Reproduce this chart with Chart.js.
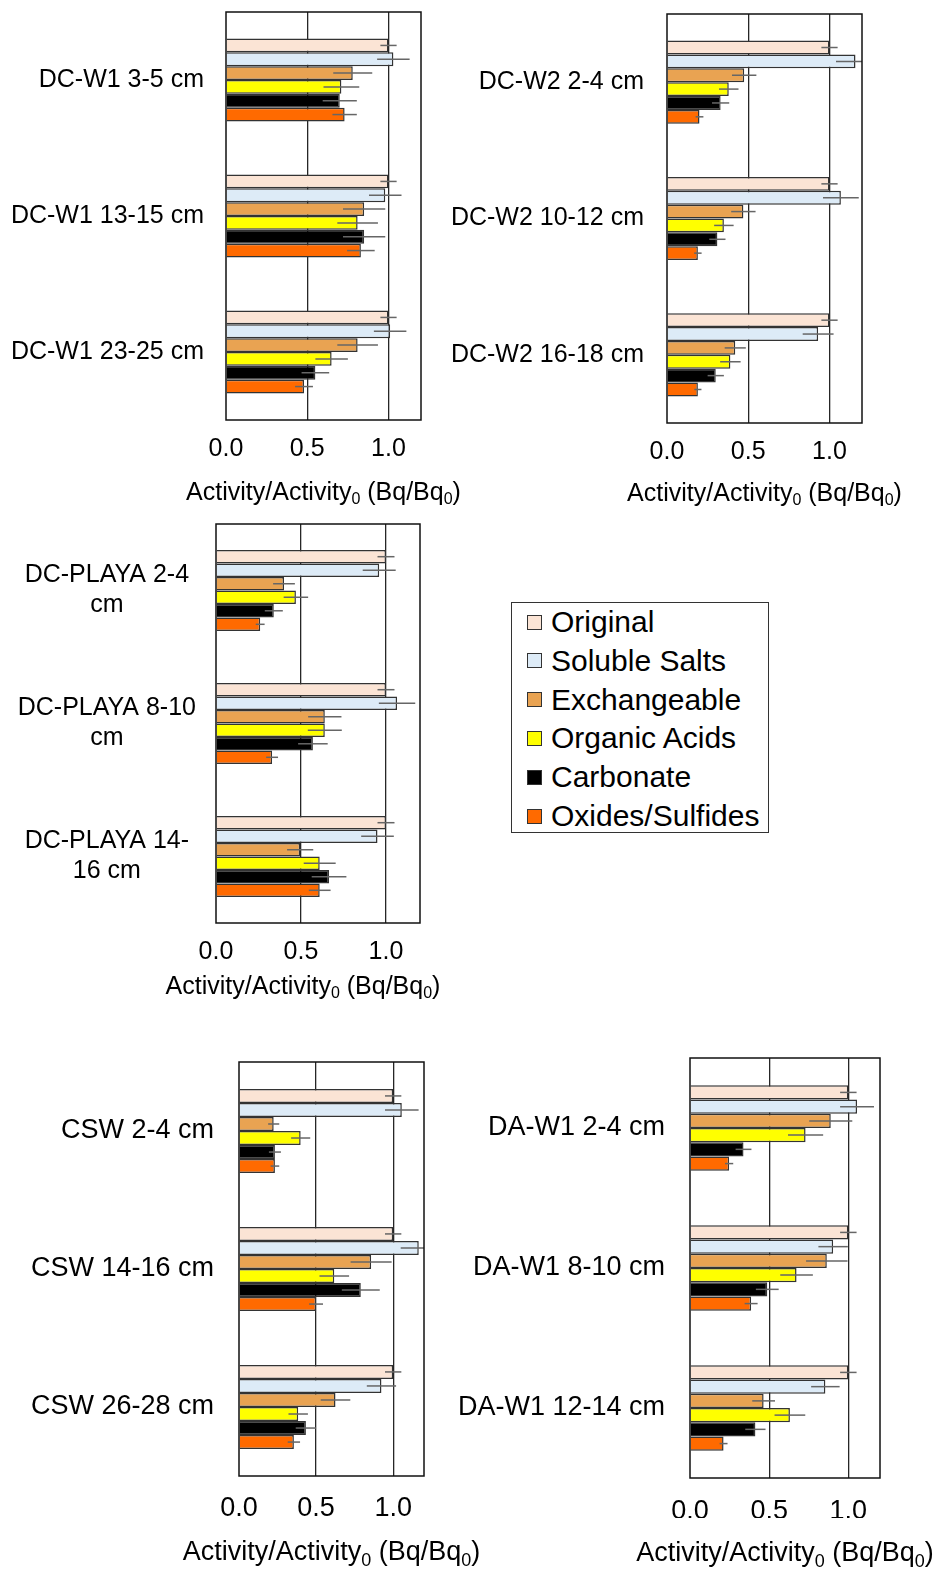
<!DOCTYPE html>
<html>
<head>
<meta charset="utf-8">
<script src="https://cdn.jsdelivr.net/npm/chart.js@4.4.1/dist/chart.umd.min.js"></script>
<style>
    body { margin: 0; background: #fff; }
    #page { position: relative; width: 933px; height: 1570px; font-family: "Liberation Sans", Arial, sans-serif; }
    .panel { position: absolute; }
    #legend { position: absolute; left: 511px; top: 602px; width: 256px; height: 229px; border: 1px solid #333; box-sizing: content-box; }
    .row { position: absolute; left: 15px; height: 30px; display: flex; align-items: center; font-size: 30px; color: #000; white-space: nowrap; }
    .box { width: 13px; height: 13px; border: 1px solid #333; margin-right: 9px; }
</style>
</head>
<body>
<div id="page">
    <div class="panel" id="p1" style="left:0;top:0;width:500px;height:520px"><canvas></canvas></div>
    <div class="panel" id="p2" style="left:440px;top:0;width:493px;height:520px"><canvas></canvas></div>
    <div class="panel" id="p3" style="left:0;top:510px;width:500px;height:520px"><canvas></canvas></div>
    <div class="panel" id="p4" style="left:0;top:1045px;width:500px;height:525px"><canvas></canvas></div>
    <div class="panel" id="p5" style="left:440px;top:1045px;width:493px;height:525px"><canvas></canvas></div>
    <div id="legend"></div>
</div>
<script>
// series (fractions), same order in every panel
const seriesNames = ['Original', 'Soluble Salts', 'Exchangeable', 'Organic Acids', 'Carbonate', 'Oxides/Sulfides'];
const seriesColors = ['#FBE4D5', '#DDEBF7', '#E9A352', '#FFFF00', '#000000', '#FF6A00'];
const xTicks = [0, 0.5, 1.0];

// DC-W1
const dcw1Labels = ['DC-W1 3-5 cm', 'DC-W1 13-15 cm', 'DC-W1 23-25 cm'];
const dcw1Values = [
    [1.0, 1.0, 1.0],
    [1.03, 0.98, 1.01],
    [0.78, 0.85, 0.81],
    [0.71, 0.81, 0.65],
    [0.70, 0.85, 0.55],
    [0.73, 0.83, 0.48],
];
const dcw1Errors = [
    [0.05, 0.05, 0.05],
    [0.10, 0.10, 0.10],
    [0.12, 0.13, 0.125],
    [0.11, 0.125, 0.10],
    [0.105, 0.13, 0.085],
    [0.075, 0.085, 0.055],
];

// DC-W2
const dcw2Labels = ['DC-W2 2-4 cm', 'DC-W2 10-12 cm', 'DC-W2 16-18 cm'];
const dcw2Values = [
    [1.0, 1.0, 1.0],
    [1.16, 1.07, 0.93],
    [0.475, 0.47, 0.42],
    [0.38, 0.35, 0.39],
    [0.33, 0.31, 0.30],
    [0.20, 0.19, 0.19],
];
const dcw2Errors = [
    [0.05, 0.05, 0.05],
    [0.12, 0.11, 0.095],
    [0.075, 0.075, 0.065],
    [0.06, 0.06, 0.063],
    [0.053, 0.05, 0.05],
    [0.024, 0.023, 0.022],
];

// DC-PLAYA
const playaLabels = [['DC-PLAYA 2-4', 'cm'], ['DC-PLAYA 8-10', 'cm'], ['DC-PLAYA 14-', '16 cm']];
const playaValues = [
    [1.0, 1.0, 1.0],
    [0.96, 1.065, 0.95],
    [0.40, 0.64, 0.495],
    [0.47, 0.64, 0.61],
    [0.34, 0.57, 0.665],
    [0.26, 0.33, 0.61],
];
const playaErrors = [
    [0.05, 0.05, 0.05],
    [0.097, 0.107, 0.096],
    [0.064, 0.098, 0.077],
    [0.072, 0.10, 0.094],
    [0.053, 0.087, 0.102],
    [0.026, 0.035, 0.064],
];

// CSW
const cswLabels = ['CSW 2-4 cm', 'CSW 14-16 cm', 'CSW 26-28 cm'];
const cswValues = [
    [1.0, 1.0, 1.0],
    [1.056, 1.166, 0.924],
    [0.225, 0.857, 0.626],
    [0.40, 0.618, 0.384],
    [0.233, 0.79, 0.434],
    [0.233, 0.50, 0.356],
];
const cswErrors = [
    [0.053, 0.053, 0.053],
    [0.109, 0.117, 0.095],
    [0.036, 0.133, 0.096],
    [0.062, 0.096, 0.063],
    [0.039, 0.123, 0.066],
    [0.028, 0.045, 0.04],
];

// DA-W1
const daw1Labels = ['DA-W1 2-4 cm', 'DA-W1 8-10 cm', 'DA-W1 12-14 cm'];
const daw1Values = [
    [1.0, 1.0, 1.0],
    [1.055, 0.904, 0.855],
    [0.889, 0.864, 0.465],
    [0.73, 0.673, 0.631],
    [0.338, 0.488, 0.413],
    [0.247, 0.386, 0.212],
];
const daw1Errors = [
    [0.052, 0.052, 0.052],
    [0.107, 0.093, 0.09],
    [0.136, 0.131, 0.072],
    [0.111, 0.103, 0.097],
    [0.05, 0.072, 0.064],
    [0.026, 0.041, 0.025],
];

Chart.defaults.font.family = '"Liberation Sans", Arial, sans-serif';
Chart.defaults.color = '#000';

// box round the plot + error bars
const frameAndErrors = {
    id: 'frameAndErrors',
    afterDatasetsDraw(chart) {
        const { ctx, chartArea: a, scales } = chart;
        ctx.save();
        ctx.beginPath();
        ctx.rect(a.left, a.top, a.right - a.left, a.bottom - a.top);
        ctx.clip();
        ctx.strokeStyle = '#666';
        ctx.lineWidth = 1.5;
        chart.data.datasets.forEach((ds, i) => {
            chart.getDatasetMeta(i).data.forEach((bar, j) => {
                const v = ds.data[j];
                const e = ds.errors[j];
                ctx.beginPath();
                ctx.moveTo(scales.x.getPixelForValue(v - e), bar.y);
                ctx.lineTo(scales.x.getPixelForValue(v + e), bar.y);
                ctx.stroke();
            });
        });
        ctx.restore();
        ctx.save();
        ctx.strokeStyle = '#111';
        ctx.lineWidth = 1.5;
        ctx.strokeRect(a.left, a.top, a.right - a.left, a.bottom - a.top);
        ctx.restore();
    },
};

// x axis title with subscript zeros
const axisTitle = {
    id: 'axisTitle',
    afterDraw(chart, args, opts) {
        const { ctx, chartArea: a } = chart;
        const parts = [['Activity/Activity', 0], ['0', 1], [' (Bq/Bq', 0], ['0', 1], [')', 0]];
        const big = opts.size + 'px "Liberation Sans", Arial, sans-serif';
        const small = Math.round(opts.size * 0.65) + 'px "Liberation Sans", Arial, sans-serif';
        ctx.save();
        let total = 0;
        parts.forEach(p => {
            ctx.font = p[1] ? small : big;
            total += ctx.measureText(p[0]).width;
        });
        let x = (a.left + a.right) / 2 - total / 2 + opts.shift;
        const y = a.bottom + opts.offset;
        ctx.fillStyle = '#000';
        ctx.textBaseline = 'middle';
        parts.forEach(p => {
            ctx.font = p[1] ? small : big;
            ctx.fillText(p[0], x, p[1] ? y + opts.size * 0.28 : y);
            x += ctx.measureText(p[0]).width;
        });
        ctx.restore();
    },
};

function makePanel(id, labels, values, errors, g) {
    const canvas = document.querySelector('#' + id + ' canvas');
    new Chart(canvas, {
        type: 'bar',
        data: {
            labels: labels,
            datasets: seriesNames.map((name, i) => ({
                label: name,
                data: values[i],
                errors: errors[i],
                backgroundColor: seriesColors[i],
                borderColor: '#333',
                borderWidth: 1.5,
                categoryPercentage: 0.61,
                barPercentage: 1.0,
            })),
        },
        options: {
            indexAxis: 'y',
            responsive: true,
            maintainAspectRatio: false,
            animation: false,
            layout: {
                padding: { left: 0, top: g.top, right: g.right, bottom: g.bottom },
            },
            scales: {
                x: {
                    min: 0,
                    max: 1.2,
                    afterBuildTicks: (scale) => {
                        scale.ticks = xTicks.map(v => ({ value: v }));
                    },
                    afterFit: (scale) => {
                        scale.height = 40;
                    },
                    ticks: {
                        padding: g.tickPad,
                        font: { size: g.font },
                        callback: (v) => Number(v).toFixed(1),
                    },
                    grid: {
                        drawTicks: false,
                        lineWidth: 1.3,
                        color: (c) => (c.tick && c.tick.value === 0 ? 'rgba(0,0,0,0)' : '#262626'),
                    },
                    border: { display: false },
                },
                y: {
                    afterFit: (scale) => {
                        scale.width = g.yWidth;
                        scale.paddingTop = 0;
                        scale.paddingBottom = 0;
                    },
                    ticks: {
                        padding: g.labelPad,
                        crossAlign: g.cross || 'near',
                        font: { size: g.font, lineHeight: 1.2 },
                    },
                    grid: { display: false, drawTicks: false },
                    border: { display: false },
                },
            },
            plugins: {
                legend: { display: false },
                tooltip: { enabled: false },
                axisTitle: { offset: g.titleOffset, size: g.font, shift: g.titleShift || 0 },
            },
        },
        plugins: [frameAndErrors, axisTitle],
    });
}

makePanel('p1', dcw1Labels, dcw1Values, dcw1Errors, { yWidth: 226, top: 12, right: 79, bottom: 60, labelPad: 22, titleOffset: 73, font: 25, tickPad: 14 });
makePanel('p2', dcw2Labels, dcw2Values, dcw2Errors, { yWidth: 227, top: 14, right: 71, bottom: 57, labelPad: 23, titleOffset: 71, font: 25, tickPad: 14 });
makePanel('p3', playaLabels, playaValues, playaErrors, { yWidth: 216, top: 14, right: 80, bottom: 67, labelPad: 20, titleOffset: 64, font: 25, tickPad: 14, cross: 'center', titleShift: -15 });
makePanel('p4', cswLabels, cswValues, cswErrors, { yWidth: 239, top: 17, right: 76, bottom: 54, labelPad: 25, titleOffset: 77, font: 27, tickPad: 16 });
makePanel('p5', daw1Labels, daw1Values, daw1Errors, { yWidth: 250, top: 13, right: 53, bottom: 52, labelPad: 25, titleOffset: 76, font: 27, tickPad: 17 });

// legend
const legend = document.getElementById('legend');
seriesNames.forEach((name, i) => {
    const row = document.createElement('div');
    row.className = 'row';
    row.style.top = (4 + i * 38.8) + 'px';
    const box = document.createElement('span');
    box.className = 'box';
    box.style.background = seriesColors[i];
    const txt = document.createElement('span');
    txt.textContent = name;
    row.appendChild(box);
    row.appendChild(txt);
    legend.appendChild(row);
});
</script>
</body>
</html>
